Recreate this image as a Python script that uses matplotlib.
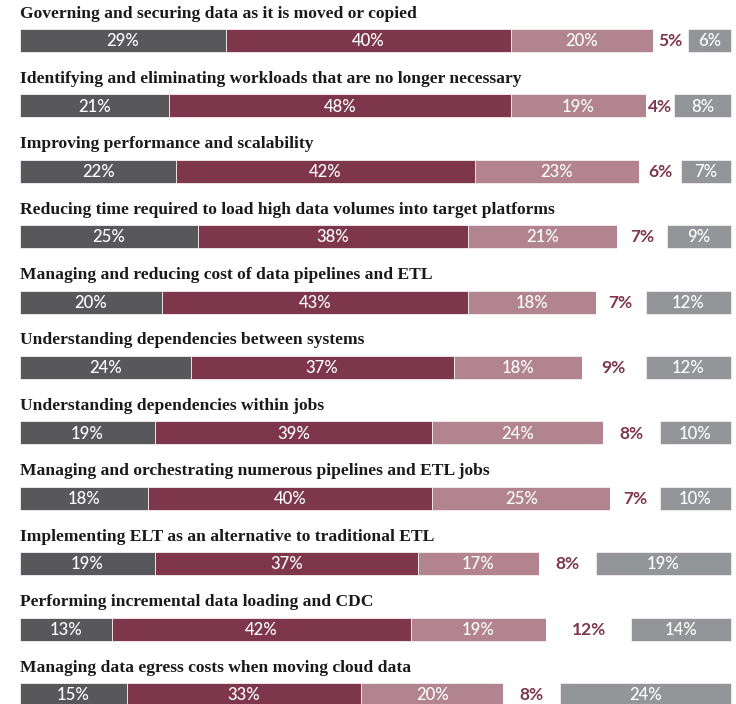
import matplotlib
matplotlib.use("Agg")
import matplotlib.pyplot as plt

categories = [
    "Governing and securing data as it is moved or copied",
    "Identifying and eliminating workloads that are no longer necessary",
    "Improving performance and scalability",
    "Reducing time required to load high data volumes into target platforms",
    "Managing and reducing cost of data pipelines and ETL",
    "Understanding dependencies between systems",
    "Understanding dependencies within jobs",
    "Managing and orchestrating numerous pipelines and ETL jobs",
    "Implementing ELT as an alternative to traditional ETL",
    "Performing incremental data loading and CDC",
    "Managing data egress costs when moving cloud data",
]
seg1 = [29, 21, 22, 25, 20, 24, 19, 18, 19, 13, 15]
seg2 = [40, 48, 42, 38, 43, 37, 39, 40, 37, 42, 33]
seg3 = [20, 19, 23, 21, 18, 18, 24, 25, 17, 19, 20]
seg4 = [5, 4, 6, 7, 7, 9, 8, 7, 8, 12, 8]
seg5 = [6, 8, 7, 9, 12, 12, 10, 10, 19, 14, 24]

series = [seg1, seg2, seg3, seg4, seg5]
colors = ["#58585a", "#7e364d", "#b1848f", "white", "#949598"]
text_colors = ["white", "white", "white", "#7e364d", "white"]
text_weights = ["medium", "medium", "medium", "bold", "medium"]

W, H = 736, 704
fig = plt.figure(figsize=(W / 100, H / 100), dpi=100)
ax = fig.add_axes([0, 0, 1, 1])

# pixel mapping: x=0 -> 20px, x=100 -> 731px
pxu = (731 - 20) / 100.0
ax.set_xlim(-20 / pxu, 100 + (W - 731) / pxu)
pitch = 65.4
bar_c = 40.5
ax.set_ylim((H - bar_c) / pitch, (0 - bar_c) / pitch)
ax.axis("off")

bh = 23 / pitch
rows = list(range(len(categories)))
left = [0] * len(categories)
for k, vals in enumerate(series):
    ax.barh(rows, vals, left=left, height=bh, color=colors[k],
            edgecolor="#f4eef0" if k != 3 else "white", linewidth=0.6)
    for i, v in enumerate(vals):
        ax.text(left[i] + v / 2, i + 0.01, f"{v}%", ha="center", va="center",
                color=text_colors[k], fontsize=12 if k != 3 else 12.5,
                fontweight=text_weights[k], family=["Lato", "DejaVu Sans"])
    left = [l + v for l, v in zip(left, vals)]

for i, cat in enumerate(categories):
    ax.text(0, i - (bar_c - 17.5) / pitch, cat, ha="left", va="baseline",
            fontsize=12.6, fontweight="bold", color="#1a1a1a",
            family=["Liberation Serif", "DejaVu Serif"])

fig.savefig("out.png", dpi=100, facecolor="white")
